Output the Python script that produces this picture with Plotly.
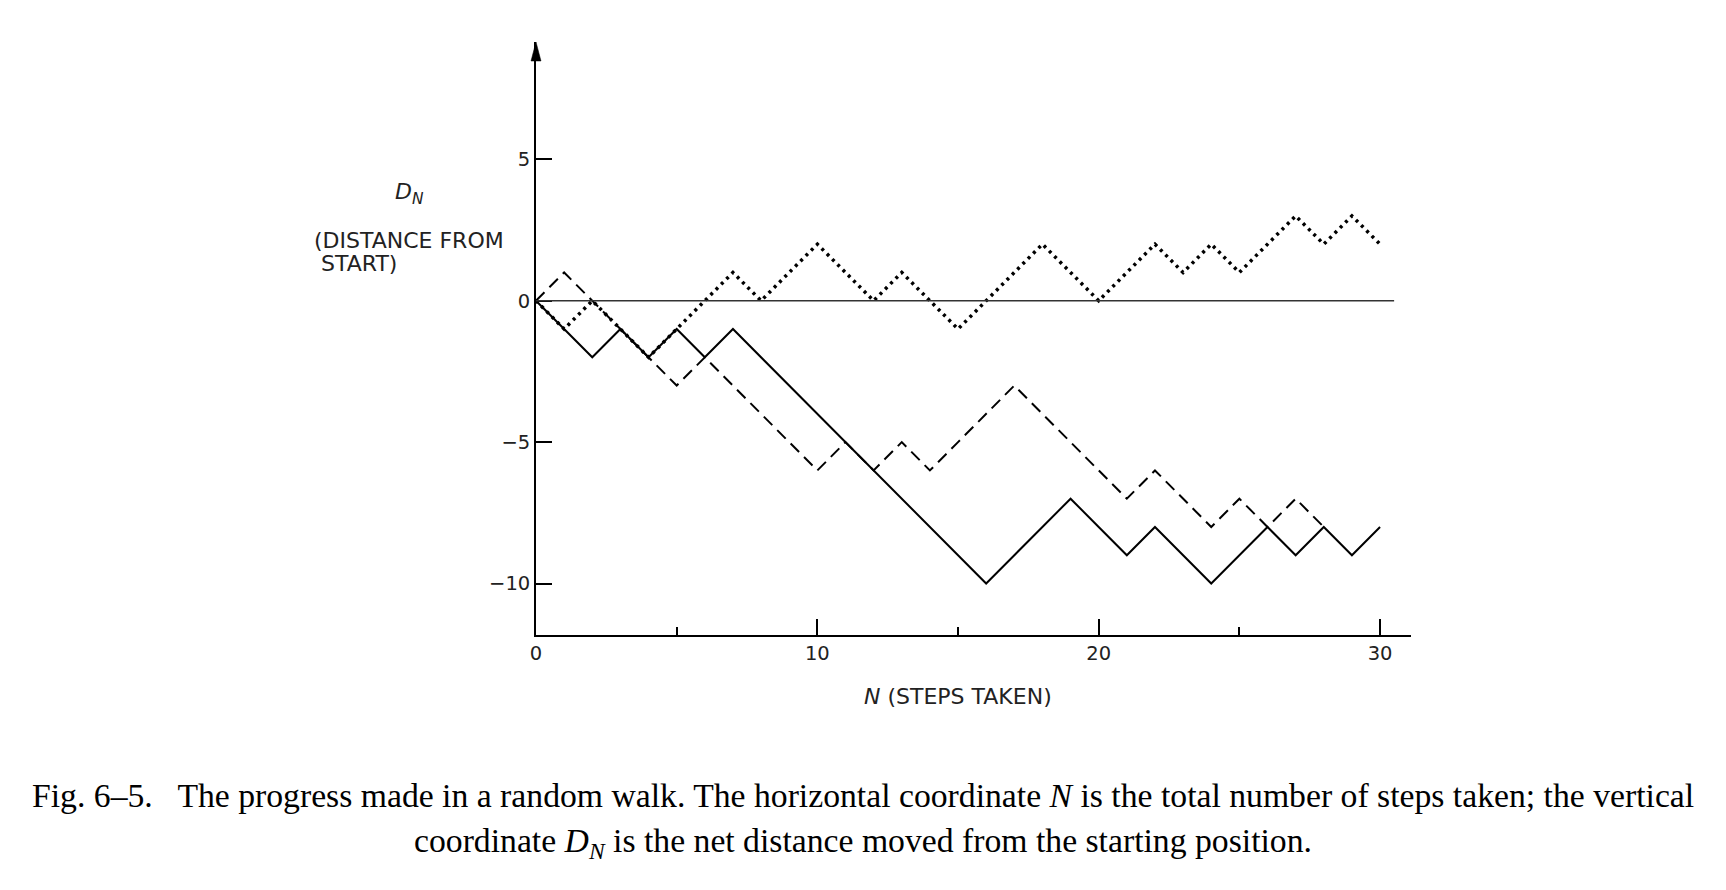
#!/usr/bin/env python3

import plotly.graph_objects as go

# random walk data
steps = list(range(0, 31))
walk_solid = [0, -1, -2, -1, -2, -1, -2, -1, -2, -3, -4, -5, -6, -7, -8, -9,
              -10, -9, -8, -7, -8, -9, -8, -9, -10, -9, -8, -9, -8, -9, -8]
walk_dashed = [0, 1, 0, -1, -2, -3, -2, -3, -4, -5, -6, -5, -6, -5, -6, -5,
               -4, -3, -4, -5, -6, -7, -6, -7, -8, -7, -8, -7, -8]
walk_dotted = [0, -1, 0, -1, -2, -1, 0, 1, 0, 1, 2, 1, 0, 1, 0, -1,
               0, 1, 2, 1, 0, 1, 2, 1, 2, 1, 2, 3, 2, 3, 2]

y_tickvals = [-10, -5, 0, 5]
y_ticktext = ["\u221210", "\u22125", "0", "5"]
x_tickvals = [0, 10, 20, 30]
x_ticktext = ["0", "10", "20", "30"]
x_minor_ticks = [5, 15, 25]

W, H = 1726, 890
L, R, T, B = 527.8, 323.0, 33.5, 263.4
x_range = [0, 31.1]
y_range = [-11.82, 9.15]
plot_w = W - L - R
plot_h = H - T - B

def px_x(px):
    return (px - L) / plot_w

def px_y(py):
    return (H - B - py) / plot_h

sans = "DejaVu Sans"
serif = "Liberation Serif"

fig = go.Figure()
fig.add_trace(go.Scatter(x=steps[:len(walk_solid)], y=walk_solid, mode="lines",
                         line=dict(color="black", width=2), showlegend=False))
fig.add_trace(go.Scatter(x=steps[:len(walk_dashed)], y=walk_dashed, mode="lines",
                         line=dict(color="black", width=2, dash="12px,7px"), showlegend=False))
fig.add_trace(go.Scatter(x=steps[:len(walk_dotted)], y=walk_dotted, mode="lines",
                         line=dict(color="black", width=3.5, dash="3px,4.5px"), showlegend=False))

# horizontal zero line
fig.add_shape(type="line", xref="x", yref="y", x0=0, x1=30.5, y0=0, y1=0,
              line=dict(color="#333", width=1.6))
# arrow head on the vertical axis
hw = 5 / plot_w
fig.add_shape(type="path", xref="paper", yref="paper",
              path="M %f,%f L %f,%f L %f,%f Z" % (-hw, 1 - 19 / plot_h, hw, 1 - 19 / plot_h, 0, 1),
              fillcolor="black", line=dict(color="black", width=0.5))

fig.update_xaxes(range=x_range, showgrid=False, zeroline=False,
                 showline=True, linecolor="black", linewidth=1.7,
                 tickmode="array", tickvals=x_tickvals, ticktext=x_ticktext,
                 ticks="inside", ticklen=16, tickwidth=1.5, tickcolor="black",
                 minor=dict(tickmode="array", tickvals=x_minor_ticks, ticks="inside",
                            ticklen=8, tickwidth=1.5, tickcolor="black"),
                 tickfont=dict(family=sans, size=19.5, color="#222"))
fig.update_yaxes(range=y_range, showgrid=False, zeroline=False,
                 showline=True, linecolor="black", linewidth=1.7,
                 tickmode="array", tickvals=y_tickvals, ticktext=y_ticktext,
                 ticks="inside", ticklen=16, tickwidth=1.5, tickcolor="black",
                 tickfont=dict(family=sans, size=19.5, color="#222"))

labels = [
    (px_x(401.3), px_y(185.4), "<i>D</i><sub><i>N</i></sub>", "center"),
    (px_x(303.6), px_y(231.8), "(DISTANCE FROM", "left"),
    (px_x(311.0), px_y(255.2), "START)", "left"),
    (px_x(950.2), px_y(688.2), "<i>N</i> (STEPS TAKEN)", "center"),
]
for x, y, txt, anc in labels:
    fig.add_annotation(x=x, y=y, xref="paper", yref="paper", text=txt, showarrow=False,
                       xanchor=anc, yanchor="middle", align=anc,
                       font=dict(family=sans, size=22, color="#222"))

caption1 = ("Fig. 6\u20135.\u00a0\u00a0 The progress made in a random walk. The horizontal coordinate "
            "<i>N</i> is the total number of steps taken; the vertical")
caption2 = "coordinate <i>D</i><sub><i>N</i></sub> is the net distance moved from the starting position."
fig.add_annotation(x=px_x(855.3), y=px_y(786.9), xref="paper", yref="paper", text=caption1,
                   showarrow=False, xanchor="center", yanchor="middle",
                   font=dict(family=serif, size=33.7, color="black"))
fig.add_annotation(x=px_x(855.0), y=px_y(835.0), xref="paper", yref="paper", text=caption2,
                   showarrow=False, xanchor="center", yanchor="middle",
                   font=dict(family=serif, size=33.7, color="black"))

fig.update_layout(width=W, height=H, autosize=False,
                  margin=dict(l=L, r=R, t=T, b=B),
                  plot_bgcolor="white", paper_bgcolor="white")

fig.write_html("out.html")
